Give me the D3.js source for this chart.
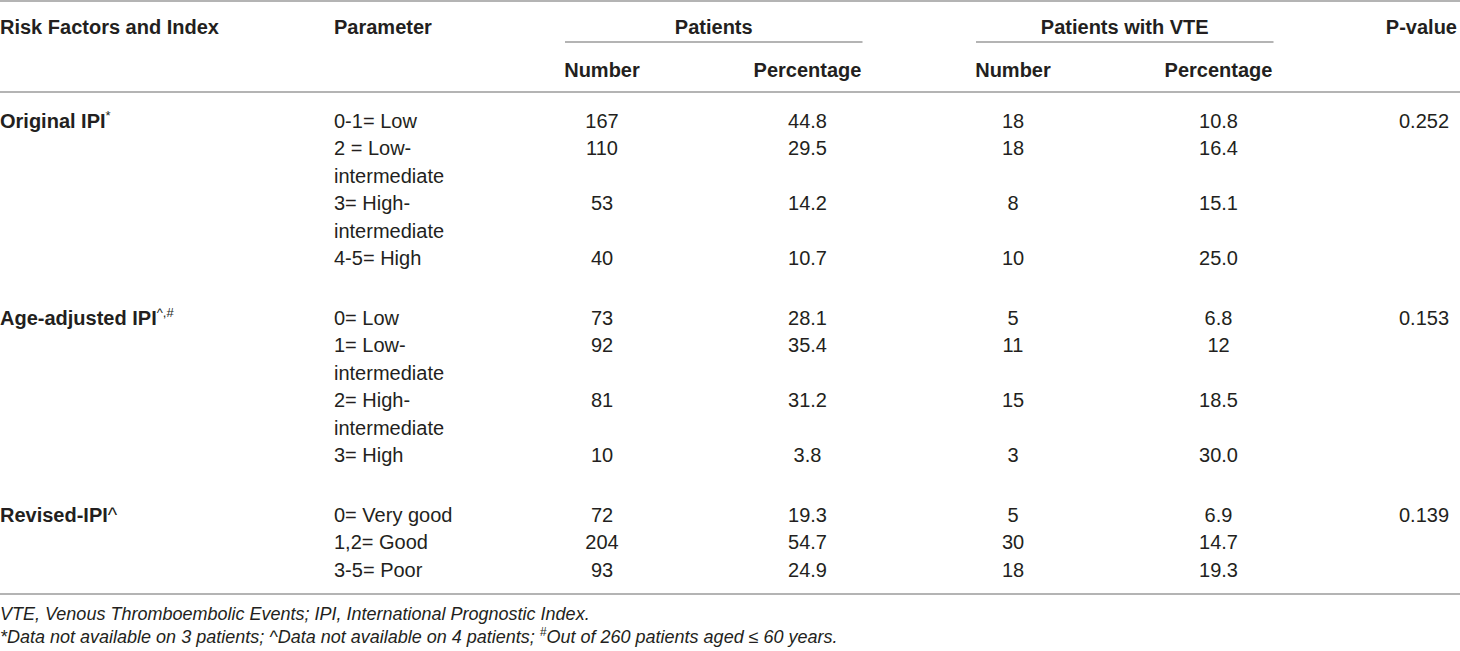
<!DOCTYPE html>
<html>
<head>
<meta charset="utf-8">
<script src="https://cdn.jsdelivr.net/npm/d3@7"></script>
<style>
  html, body { margin: 0; padding: 0; background: #fff; }
  svg text { font-family: "Liberation Sans", Arial, Helvetica, sans-serif; fill: #231f20; }
</style>
</head>
<body>
<div id="table"></div>
<script>
// 表格数据
const groups = ["Original IPI", "Age-adjusted IPI", "Revised-IPI"];
const groupMarks = ["*", "^,#", "^"];
const groupSizes = [4, 4, 3];
const params = [
    ["0-1= Low"], ["2 = Low-", "intermediate"], ["3= High-", "intermediate"], ["4-5= High"],
    ["0= Low"], ["1= Low-", "intermediate"], ["2= High-", "intermediate"], ["3= High"],
    ["0= Very good"], ["1,2= Good"], ["3-5= Poor"]
];
const patientsNumber = ["167", "110", "53", "40", "73", "92", "81", "10", "72", "204", "93"];
const patientsPct = ["44.8", "29.5", "14.2", "10.7", "28.1", "35.4", "31.2", "3.8", "19.3", "54.7", "24.9"];
const vteNumber = ["18", "18", "8", "10", "5", "11", "15", "3", "5", "30", "18"];
const vtePct = ["10.8", "16.4", "15.1", "25.0", "6.8", "12", "18.5", "30.0", "6.9", "14.7", "19.3"];
const pValues = ["0.252", "0.153", "0.139"];
const columns = ["pN", "pPct", "vN", "vPct", "p"];
const subHeaders = ["Number", "Percentage", "Number", "Percentage"];

const width = 1460, height = 651;
const lineColor = "#9b9b9b";

const svg = d3.select("#table").append("svg")
    .attr("width", width)
    .attr("height", height);

// 列位置
const x = d3.scalePoint().domain(columns).range([602, 1424]);
const xParam = 334;

// 行位置：每一行文字的行号 + 组间距
const lineY = d3.scaleLinear().domain([0, 1]).range([121, 148.4]);
const groupGap = 32.6;

// 计算每个参数的起始行号
let lineIdx = 0;
const rows = [];
let k = 0;
groupSizes.forEach((n, g) => {
    for (let i = 0; i < n; i++) {
        rows.push({ g: g, first: i === 0, line: lineIdx, idx: k });
        lineIdx += params[k].length;
        k++;
    }
});
const yOf = r => lineY(r.line) + r.g * groupGap;

// 水平线
function hline(x1, x2, y) {
    svg.append("line")
        .attr("x1", x1).attr("x2", x2)
        .attr("y1", y).attr("y2", y)
        .attr("stroke", lineColor)
        .attr("stroke-width", 1.5);
}
hline(0, width, 1);
hline(0, width, 92);
hline(0, width, 594);

// 表头
const head = svg.append("g").attr("font-weight", "bold").attr("font-size", 20);
head.append("text").attr("x", 0).attr("y", 34).text("Risk Factors and Index");
head.append("text").attr("x", xParam).attr("y", 34).text("Parameter");
head.append("text").attr("x", width - 3).attr("y", 34).attr("text-anchor", "end").text("P-value");

[["Patients", "pN", "pPct"], ["Patients with VTE", "vN", "vPct"]].forEach(d => {
    const x1 = x(d[1]) - 37, x2 = x(d[2]) + 55;
    head.append("text")
        .attr("x", (x1 + x2) / 2).attr("y", 34)
        .attr("text-anchor", "middle")
        .text(d[0]);
    hline(x1, x2, 42);
});
subHeaders.forEach((s, i) => {
    head.append("text")
        .attr("x", x(columns[i])).attr("y", 77)
        .attr("text-anchor", "middle")
        .text(s);
});

// 组标签
const body = svg.append("g").attr("font-size", 20);
rows.filter(r => r.first).forEach(r => {
    const t = body.append("text")
        .attr("x", 0).attr("y", yOf(r) + 7)
        .attr("font-weight", "bold");
    t.append("tspan").text(groups[r.g]);
    if (r.g === 2) {
        t.append("tspan").attr("font-weight", "normal").text(groupMarks[r.g]);
    } else {
        t.append("tspan")
            .attr("font-weight", "normal")
            .attr("font-size", 13)
            .attr("dy", -8)
            .text(groupMarks[r.g]);
    }
    // P值
    body.append("text")
        .attr("x", x("p")).attr("y", yOf(r) + 7)
        .attr("text-anchor", "middle")
        .text(pValues[r.g]);
});

// 参数和数值
rows.forEach(r => {
    params[r.idx].forEach((p, j) => {
        body.append("text")
            .attr("x", xParam)
            .attr("y", lineY(r.line + j) + r.g * groupGap + 7)
            .text(p);
    });
    [patientsNumber, patientsPct, vteNumber, vtePct].forEach((arr, c) => {
        body.append("text")
            .attr("x", x(columns[c]))
            .attr("y", yOf(r) + 7)
            .attr("text-anchor", "middle")
            .text(arr[r.idx]);
    });
});

// 脚注
const foot = svg.append("g").attr("font-size", 18).attr("font-style", "italic");
foot.append("text").attr("x", 0).attr("y", 620)
    .text("VTE, Venous Thromboembolic Events; IPI, International Prognostic Index.");
const f2 = foot.append("text").attr("x", 0).attr("y", 643);
f2.append("tspan").text("*Data not available on 3 patients; ^Data not available on 4 patients; ");
f2.append("tspan").attr("font-size", 12).attr("dy", -7).text("#");
f2.append("tspan").attr("dy", 7).text("Out of 260 patients aged \u2264 60 years.");
</script>
</body>
</html>
